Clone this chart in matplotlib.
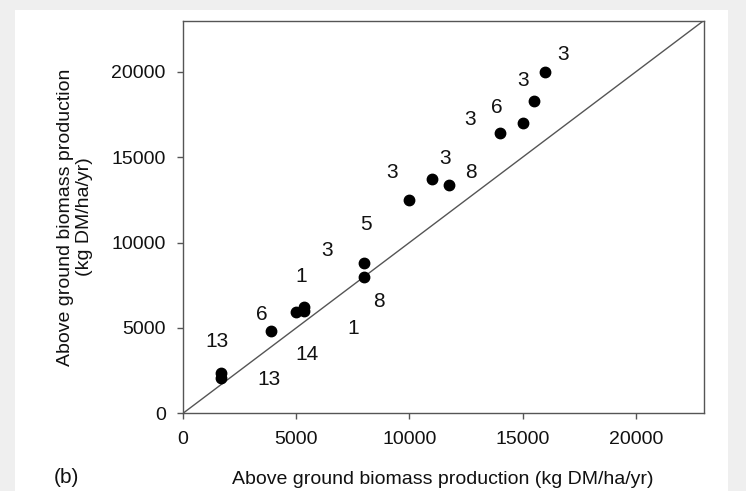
import matplotlib.pyplot as plt
from matplotlib.patches import Rectangle

plt.rcParams['font.family'] = ['Liberation Sans', 'DejaVu Sans']

# puntos (x observado, y simulado) en kg DM/ha/yr
x_obs = [16000, 15500, 15000, 14000, 11750, 11000, 10000, 8000, 8000, 5000, 5350, 5350, 3900, 1700, 1700]
y_sim = [20000, 18300, 17000, 16450, 13400, 13700, 12500, 8800, 8000, 5950, 6250, 5980, 4850, 2350, 2050]

# etiquetas numericas
lbl_txt = ["3", "3", "6", "3", "3", "8", "3", "5", "3", "1", "8", "6", "1", "13", "14", "13"]
lbl_x = [16780, 15020, 13850, 12700, 11560, 12700, 9240, 8080, 6380, 5220, 8650, 3495, 7510, 1500, 5490, 3780]
lbl_y = [21030, 19510, 17930, 17230, 14950, 14130, 14110, 11080, 9560, 8040, 6535, 5780, 4995, 4195, 3450, 1960]

ticks = [0, 5000, 10000, 15000, 20000]
lim = 23000

fig = plt.figure(figsize=(7.46, 4.91), dpi=100)
fig.patch.set_facecolor('#efefef')
fig.patches.append(Rectangle((15/746, 0), (728-15)/746, 481/491, transform=fig.transFigure,
                             facecolor='white', edgecolor='none', zorder=-10))

ax = fig.add_axes([183/746, 1-413.3/491, 520.6/746, 392.6/491])
ax.set_zorder(1)
ax.plot([0, lim], [0, lim], color='#555555', lw=1)
ax.plot(x_obs, y_sim, 'o', color='black', ms=7.5)
for i in range(len(lbl_txt)):
	ax.text(lbl_x[i], lbl_y[i], lbl_txt[i], ha='center', va='center', fontsize=15, color='#111111')

ax.set_xlim(0, lim)
ax.set_ylim(0, lim)
ax.set_xticks(ticks)
ax.set_yticks(ticks)
ax.tick_params(direction='out', length=4.5, width=1, color='#555555', labelsize=14, pad=8, labelcolor='#111111')
for s in ax.spines.values():
	s.set_color('#555555')
	s.set_linewidth(1)

fig.text(75/746, 1-217/491, 'Above ground biomass production\n(kg DM/ha/yr)', rotation=90,
         ha='center', va='center', fontsize=14, multialignment='center', color='#111111')
fig.text(443/746, 1-479/491, 'Above ground biomass production (kg DM/ha/yr)',
         ha='center', va='center', fontsize=14, color='#111111')
fig.text(66.7/746, 1-477.7/491, '(b)', ha='center', va='center', fontsize=15, color='#111111')

plt.savefig('out.png', dpi=100)
